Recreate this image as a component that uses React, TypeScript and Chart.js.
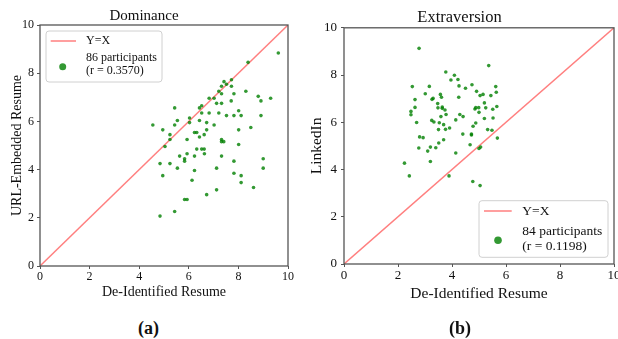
import React, { useEffect, useRef } from 'react';
import { Chart, registerables } from 'chart.js';

Chart.register(...registerables);

const FONT = '"Liberation Serif", "Times New Roman", Times, serif';

// ---- shared axis data ----
const xTicks = [0, 2, 4, 6, 8, 10];
const yTicks = [0, 2, 4, 6, 8, 10];
const identityLine = [0, 10];
const axisMin = 0;
const axisMax = 10;

// ---- (a) Dominance ----
const domTitle = 'Dominance';
const domXLabel = 'De-Identified Resume';
const domYLabel = 'URL-Embedded Resume';
const domLegend = ['Y=X', '86 participants', '(r = 0.3570)'];
const domPanelLabel = '(a)';
const domX = [
  9.61, 8.39, 7.42, 7.72, 7.52, 7.32, 7.72, 7.21, 7.32, 7.82, 8.30, 8.80, 8.91, 9.30,
  6.82, 7.02, 7.71, 7.12, 7.32, 6.52, 6.43, 5.43, 8.01, 6.52, 6.82, 7.21, 7.52, 7.82,
  8.11, 8.91, 5.54, 6.03, 6.43, 6.72, 6.03, 5.43, 4.55, 7.02, 4.95, 6.72, 8.01, 8.50,
  6.23, 6.32, 5.24, 6.62, 6.43, 5.24, 5.93, 7.32, 7.32, 7.41, 5.04, 8.01, 6.32, 6.52,
  6.62, 5.93, 6.63, 5.63, 6.23, 7.32, 5.83, 5.83, 9.00, 7.82, 4.84, 5.24, 4.95, 5.54,
  6.23, 7.12, 7.82, 8.11, 9.00, 6.13, 8.11, 8.61, 7.12, 6.72, 5.83, 5.93, 5.43, 4.84,
];
const domY = [
  8.84, 8.45, 7.65, 7.73, 7.54, 7.46, 7.46, 7.25, 7.15, 7.15, 7.25, 7.04, 6.85, 6.96,
  6.96, 6.96, 6.85, 6.75, 6.75, 6.65, 6.56, 6.56, 6.44, 6.35, 6.35, 6.35, 6.24, 6.24,
  6.24, 6.24, 6.04, 6.14, 6.04, 5.95, 5.95, 5.85, 5.85, 5.85, 5.65, 5.65, 5.65, 5.75,
  5.54, 5.54, 5.45, 5.45, 5.35, 5.25, 5.25, 5.25, 5.16, 5.16, 4.96, 5.04, 4.85, 4.85,
  4.85, 4.66, 4.66, 4.56, 4.56, 4.56, 4.45, 4.35, 4.45, 4.35, 4.25, 4.25, 3.75, 4.06,
  3.96, 4.06, 3.85, 3.75, 4.06, 3.56, 3.46, 3.26, 3.16, 2.96, 2.76, 2.76, 2.26, 2.07,
];

// ---- (b) Extraversion ----
const extTitle = 'Extraversion';
const extXLabel = 'De-Identified Resume';
const extYLabel = 'LinkedIn';
const extLegend = ['Y=X', '84 participants', '(r = 0.1198)'];
const extPanelLabel = '(b)';
const extX = [
  2.78, 5.36, 3.77, 4.09, 3.96, 4.22, 2.53, 3.16, 4.26, 4.50, 4.74, 5.62, 3.01, 3.57,
  4.91, 5.64, 3.30, 3.26, 3.61, 4.25, 5.04, 5.15, 5.44, 2.63, 3.47, 5.20, 3.64, 3.64,
  3.74, 3.48, 2.63, 4.88, 4.85, 4.99, 5.25, 5.51, 5.66, 5.00, 2.48, 2.48, 3.78, 4.29,
  4.41, 3.59, 5.20, 5.52, 4.14, 2.69, 3.25, 3.33, 3.53, 3.69, 3.91, 3.76, 3.50, 4.88,
  4.78, 5.32, 5.48, 4.40, 4.72, 4.72, 5.68, 2.80, 2.93, 3.69, 3.51, 4.67, 5.06, 5.00,
  2.77, 3.20, 3.40, 3.10, 4.14, 2.24, 3.20, 2.42, 3.89, 4.77, 5.04,
];
const extY = [
  9.13, 8.40, 8.13, 7.99, 7.79, 7.81, 7.51, 7.52, 7.54, 7.44, 7.59, 7.51, 7.21, 7.18,
  7.31, 7.27, 7.01, 6.97, 7.06, 7.06, 7.13, 7.18, 7.13, 6.96, 6.79, 6.82, 6.65, 6.59,
  6.52, 6.61, 6.63, 6.62, 6.56, 6.62, 6.61, 6.55, 6.67, 6.42, 6.46, 6.32, 6.33, 6.33,
  6.24, 6.24, 6.16, 6.18, 6.10, 5.99, 6.08, 6.01, 5.98, 5.90, 5.76, 5.70, 5.69, 5.97,
  5.83, 5.69, 5.66, 5.50, 5.50, 5.46, 5.33, 5.38, 5.35, 5.26, 5.12, 5.05, 4.95, 4.89,
  4.91, 4.95, 4.92, 4.78, 4.70, 4.27, 4.34, 3.73, 3.73, 3.49, 3.32,
];

const POINT_COLOR = 'rgba(0,128,0,0.8)';
const LINE_COLOR = 'rgba(255,0,0,0.5)';
const FRAME_COLOR = '#555555';
const TEXT_COLOR = '#111111';

const framePlugin = {
  id: 'frameBox',
  afterDatasetsDraw(chart: any) {
    const { ctx, chartArea: ca } = chart;
    ctx.save();
    ctx.strokeStyle = FRAME_COLOR;
    ctx.lineWidth = 1.3;
    ctx.strokeRect(ca.left, ca.top, ca.right - ca.left, ca.bottom - ca.top);
    ctx.restore();
  },
};

const legendPlugin = {
  id: 'boxLegend',
  afterDraw(chart: any, _args: any, o: any) {
    const { ctx, chartArea: ca } = chart;
    const bx = o.corner === 'tl' ? ca.left + o.dx : ca.right - o.dx - o.w;
    const by = o.corner === 'tl' ? ca.top + o.dy : ca.bottom - o.dy - o.h;
    ctx.save();
    const r = 3;
    ctx.beginPath();
    ctx.moveTo(bx + r, by);
    ctx.lineTo(bx + o.w - r, by);
    ctx.arcTo(bx + o.w, by, bx + o.w, by + r, r);
    ctx.lineTo(bx + o.w, by + o.h - r);
    ctx.arcTo(bx + o.w, by + o.h, bx + o.w - r, by + o.h, r);
    ctx.lineTo(bx + r, by + o.h);
    ctx.arcTo(bx, by + o.h, bx, by + o.h - r, r);
    ctx.lineTo(bx, by + r);
    ctx.arcTo(bx, by, bx + r, by, r);
    ctx.closePath();
    ctx.fillStyle = 'rgba(255,255,255,0.8)';
    ctx.fill();
    ctx.strokeStyle = '#d0d0d0';
    ctx.lineWidth = 1;
    ctx.stroke();

    ctx.strokeStyle = LINE_COLOR;
    ctx.lineWidth = 1.5;
    ctx.beginPath();
    ctx.moveTo(bx + o.lx0, by + o.ly);
    ctx.lineTo(bx + o.lx1, by + o.ly);
    ctx.stroke();

    ctx.fillStyle = POINT_COLOR;
    ctx.beginPath();
    ctx.arc(bx + o.px, by + o.py, o.pr, 0, Math.PI * 2);
    ctx.fill();

    ctx.fillStyle = TEXT_COLOR;
    ctx.font = `${o.fontSize}px ${FONT}`;
    ctx.textAlign = 'left';
    ctx.textBaseline = 'middle';
    ctx.fillText(o.labels[0], bx + o.tx, by + o.ly);
    ctx.fillText(o.labels[1], bx + o.tx, by + o.t1);
    ctx.fillText(o.labels[2], bx + o.tx, by + o.t2);
    ctx.restore();
  },
};

type Spec = {
  left: number;
  w: number;
  h: number;
  yWidth: number;
  xHeight: number;
  padRight: number;
  titlePad: { top: number; bottom: number };
  yTitlePad: number;
  tickFont: number;
  axisFont: number;
  titleFont: number;
  tickPadX: number;
  tickPadY: number;
  title: string;
  xLabel: string;
  yLabel: string;
  xs: number[];
  ys: number[];
  legend: any;
};

function makeConfig(s: Spec): any {
  const tickLen = 3;
  return {
    type: 'scatter',
    data: {
      datasets: [
        {
          type: 'scatter',
          data: s.xs.map((x, i) => ({ x, y: s.ys[i] })),
          pointRadius: 1.8,
          pointBackgroundColor: POINT_COLOR,
          pointBorderWidth: 0,
          borderWidth: 0,
        },
        {
          type: 'line',
          data: identityLine.map((v) => ({ x: v, y: v })),
          borderColor: LINE_COLOR,
          borderWidth: 1.5,
          pointRadius: 0,
          fill: false,
        },
      ],
    },
    options: {
      responsive: false,
      animation: false,
      devicePixelRatio: 1,
      layout: { padding: { left: 0, right: s.padRight, top: 0, bottom: 0 } },
      plugins: {
        legend: { display: false },
        tooltip: { enabled: false },
        title: {
          display: true,
          text: s.title,
          color: TEXT_COLOR,
          font: { family: FONT, size: s.titleFont, weight: 'normal' },
          padding: s.titlePad,
        },
        boxLegend: s.legend,
      },
      scales: {
        x: {
          type: 'linear',
          min: axisMin,
          max: axisMax,
          afterBuildTicks: (sc: any) => {
            sc.ticks = xTicks.map((v) => ({ value: v }));
          },
          afterFit: (sc: any) => {
            sc.height = s.xHeight;
          },
          ticks: {
            autoSkip: false,
            maxRotation: 0,
            padding: s.tickPadX,
            color: TEXT_COLOR,
            font: { family: FONT, size: s.tickFont },
          },
          grid: { display: true, drawOnChartArea: false, drawTicks: true, tickLength: tickLen, color: FRAME_COLOR },
          border: { display: false },
          title: {
            display: true,
            text: s.xLabel,
            color: TEXT_COLOR,
            font: { family: FONT, size: s.axisFont },
            padding: { top: 0, bottom: 0 },
          },
        },
        y: {
          type: 'linear',
          min: axisMin,
          max: axisMax,
          afterBuildTicks: (sc: any) => {
            sc.ticks = yTicks.map((v) => ({ value: v }));
          },
          afterFit: (sc: any) => {
            sc.width = s.yWidth;
          },
          ticks: {
            autoSkip: false,
            padding: s.tickPadY,
            color: TEXT_COLOR,
            font: { family: FONT, size: s.tickFont },
          },
          grid: { display: true, drawOnChartArea: false, drawTicks: true, tickLength: tickLen, color: FRAME_COLOR },
          border: { display: false },
          title: {
            display: true,
            text: s.yLabel,
            color: TEXT_COLOR,
            font: { family: FONT, size: s.axisFont },
            padding: { top: s.yTitlePad, bottom: 0 },
          },
        },
      },
    },
    plugins: [framePlugin, legendPlugin],
  };
}

const leftSpec: Spec = {
  left: 0,
  w: 309,
  h: 301,
  yWidth: 40,
  xHeight: 35,
  padRight: 21,
  titlePad: { top: 7, bottom: 0 },
  yTitlePad: 8.6,
  tickFont: 12,
  axisFont: 14,
  titleFont: 15,
  tickPadX: 1,
  tickPadY: 3,
  title: domTitle,
  xLabel: domXLabel,
  yLabel: domYLabel,
  xs: domX,
  ys: domY,
  legend: {
    corner: 'tl', dx: 6, dy: 6, w: 116, h: 51,
    lx0: 4.7, lx1: 30, ly: 10, tx: 40, t1: 27.3, t2: 39.7,
    px: 16.7, py: 35.7, pr: 3.5, fontSize: 12, labels: domLegend,
  },
};

const rightSpec: Spec = {
  left: 305,
  w: 320,
  h: 303,
  yWidth: 39,
  xHeight: 39,
  padRight: 11,
  titlePad: { top: 8, bottom: 0 },
  yTitlePad: 3,
  tickFont: 13,
  axisFont: 15.5,
  titleFont: 16.5,
  tickPadX: 1,
  tickPadY: 4,
  title: extTitle,
  xLabel: extXLabel,
  yLabel: extYLabel,
  xs: extX,
  ys: extY,
  legend: {
    corner: 'br', dx: 6, dy: 6.7, w: 129, h: 56.6,
    lx0: 5, lx1: 32.7, ly: 10.3, tx: 43.3, t1: 30.3, t2: 46,
    px: 19, py: 39.6, pr: 3.8, fontSize: 13.5, labels: extLegend,
  },
};

function Panel({ spec }: { spec: Spec }) {
  const ref = useRef<HTMLCanvasElement | null>(null);
  useEffect(() => {
    if (!ref.current) return;
    const chart = new Chart(ref.current, makeConfig(spec));
    return () => chart.destroy();
  }, [spec]);
  return (
    <canvas
      ref={ref}
      width={spec.w}
      height={spec.h}
      style={{ position: 'absolute', left: spec.left, top: 0, width: spec.w, height: spec.h }}
    />
  );
}

const panelLabelStyle = (cx: number): React.CSSProperties => ({
  position: 'absolute',
  left: cx - 40,
  top: 318,
  width: 80,
  textAlign: 'center',
  fontFamily: FONT,
  fontWeight: 'bold',
  fontSize: 18,
  lineHeight: '20px',
  color: TEXT_COLOR,
});

export default function App() {
  return (
    <div
      style={{
        position: 'fixed',
        left: 0,
        top: 0,
        width: 618,
        height: 339,
        overflow: 'hidden',
        background: '#ffffff',
      }}
    >
      <Panel spec={leftSpec} />
      <Panel spec={rightSpec} />
      <div style={panelLabelStyle(148.5)}>{domPanelLabel}</div>
      <div style={panelLabelStyle(460)}>{extPanelLabel}</div>
    </div>
  );
}
